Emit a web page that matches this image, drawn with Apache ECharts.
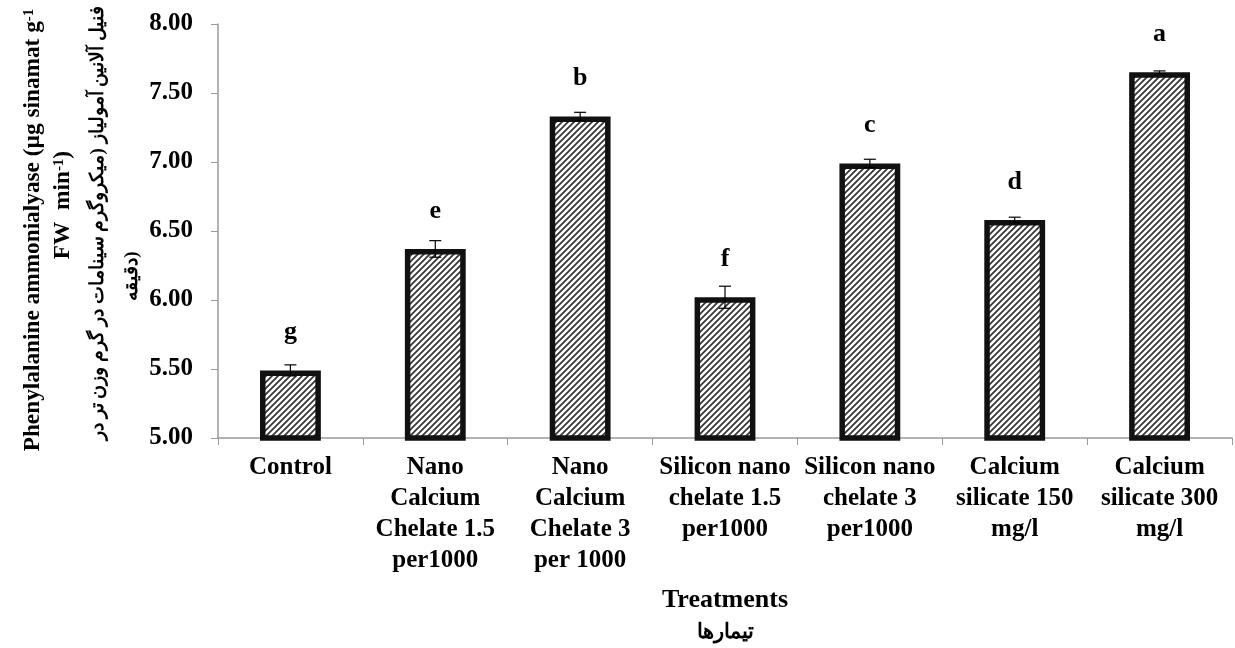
<!DOCTYPE html>
<html>
<head>
<meta charset="utf-8">
<script src="https://cdn.jsdelivr.net/npm/echarts@6/dist/echarts.min.js"></script>
<style>html,body{margin:0;padding:0;background:#fff}#c{width:1235px;height:648px}</style>
</head>
<body>
<div id="c"></div>
<script>
const categories = ['Control', 'Nano\nCalcium\nChelate 1.5\nper1000', 'Nano\nCalcium\nChelate 3\nper 1000', 'Silicon nano\nchelate 1.5\nper1000', 'Silicon nano\nchelate 3\nper1000', 'Calcium\nsilicate 150\nmg/l', 'Calcium\nsilicate 300\nmg/l'];
const values = [5.49, 6.37, 7.33, 6.02, 6.99, 6.58, 7.65];
const errors = [0.04, 0.06, 0.03, 0.08, 0.03, 0.02, 0.01];
const letters = ['g', 'e', 'b', 'f', 'c', 'd', 'a'];
const yTicks = ['5.00', '5.50', '6.00', '6.50', '7.00', '7.50', '8.00'];

function makePattern() {
  const s = 6;
  const cv = document.createElement('canvas');
  cv.width = s; cv.height = s;
  const ctx = cv.getContext('2d');
  ctx.fillStyle = '#ffffff';
  ctx.fillRect(0, 0, s, s);
  ctx.strokeStyle = '#333333';
  ctx.lineWidth = 1.7;
  ctx.beginPath();
  ctx.moveTo(-1, s + 1); ctx.lineTo(s + 1, -1);
  ctx.moveTo(-1, 1); ctx.lineTo(1, -1);
  ctx.moveTo(s - 1, s + 1); ctx.lineTo(s + 1, s - 1);
  ctx.stroke();
  return cv;
}

const chart = echarts.init(document.getElementById('c'));
const serif = "'Liberation Serif', 'Times New Roman', serif";
chart.setOption({
  animation: false,
  grid: { left: 218, right: 3, top: 24, bottom: 210, outerBoundsMode: 'none', containLabel: false },
  xAxis: {
    type: 'category',
    data: categories,
    axisLine: { lineStyle: { color: '#9a9a9a', width: 1.5 } },
    axisTick: { show: true, length: 7, lineStyle: { color: '#9a9a9a' } },
    axisLabel: { interval: 0, color: '#000', fontFamily: serif, fontWeight: 'bold', fontSize: 25, lineHeight: 31, margin: 14 },
    name: '{a|Treatments}\n{b|تیمارها}',
    nameLocation: 'middle',
    nameGap: 145,
    nameTextStyle: {
      rich: {
        a: { fontFamily: serif, fontWeight: 'bold', fontSize: 26, color: '#000', lineHeight: 34 },
        b: { fontFamily: serif, fontWeight: 'bold', fontSize: 21, color: '#000', lineHeight: 32 }
      }
    }
  },
  yAxis: {
    type: 'value',
    min: 5, max: 8, interval: 0.5,
    splitLine: { show: false },
    axisLine: { show: true, lineStyle: { color: '#9a9a9a', width: 1.5 } },
    axisTick: { show: true, length: 7, lineStyle: { color: '#9a9a9a' } },
    axisLabel: { color: '#000', fontFamily: serif, fontWeight: 'bold', fontSize: 25, margin: 25,
      formatter: v => yTicks[Math.round((v - 5) / 0.5)] }
  },
  graphic: [
    { type: 'text', x: 33, y: 230, rotation: Math.PI / 2,
      style: { text: 'Phenylalanine ammonialyase (µg sinamat g{s|-1}', fontFamily: serif, fontWeight: 'bold', fontSize: 23.3, fill: '#000', align: 'center', verticalAlign: 'middle',
        rich: { s: { fontFamily: serif, fontWeight: 'bold', fontSize: 15, verticalAlign: 'top', fill: '#000' } } } },
    { type: 'text', x: 63, y: 205, rotation: Math.PI / 2,
      style: { text: 'FW  min{s|-1})', fontFamily: serif, fontWeight: 'bold', fontSize: 23.3, fill: '#000', align: 'center', verticalAlign: 'middle',
        rich: { s: { fontFamily: serif, fontWeight: 'bold', fontSize: 15, verticalAlign: 'top', fill: '#000' } } } },
    { type: 'text', x: 98, y: 223, rotation: Math.PI / 2,
      style: { text: 'فنیل آلانین آمولیاز (میکروگرم سینامات در گرم وزن تر در', fontFamily: serif, fontWeight: 'bold', fontSize: 19, fill: '#000', align: 'center', verticalAlign: 'middle' } },
    { type: 'text', x: 132, y: 276, rotation: Math.PI / 2,
      style: { text: 'دقیقه)', fontFamily: serif, fontWeight: 'bold', fontSize: 19, fill: '#000', align: 'center', verticalAlign: 'middle' } }
  ],
  series: [
    {
      type: 'bar',
      data: values,
      barWidth: '42%',
      itemStyle: { color: { image: makePattern(), repeat: 'repeat' }, borderColor: '#111', borderWidth: 5.5 },
      label: {
        show: true, position: 'top', distance: 25,
        formatter: p => letters[p.dataIndex],
        color: '#000', fontFamily: serif, fontWeight: 'bold', fontSize: 26
      },
      z: 2
    },
    {
      type: 'custom',
      z: 5,
      data: values.map((v, i) => [i, v - errors[i], v + errors[i]]),
      renderItem: function (params, api) {
        const lo = api.coord([api.value(0), api.value(1)]);
        const hi = api.coord([api.value(0), api.value(2)]);
        const hw = 6;
        const st = { stroke: '#000', lineWidth: 1.2 };
        return {
          type: 'group',
          children: [
            { type: 'line', shape: { x1: lo[0], y1: lo[1], x2: hi[0], y2: hi[1] }, style: st },
            { type: 'line', shape: { x1: lo[0] - hw, y1: lo[1], x2: lo[0] + hw, y2: lo[1] }, style: st },
            { type: 'line', shape: { x1: hi[0] - hw, y1: hi[1], x2: hi[0] + hw, y2: hi[1] }, style: st }
          ]
        };
      }
    }
  ]
});
</script>
</body>
</html>
